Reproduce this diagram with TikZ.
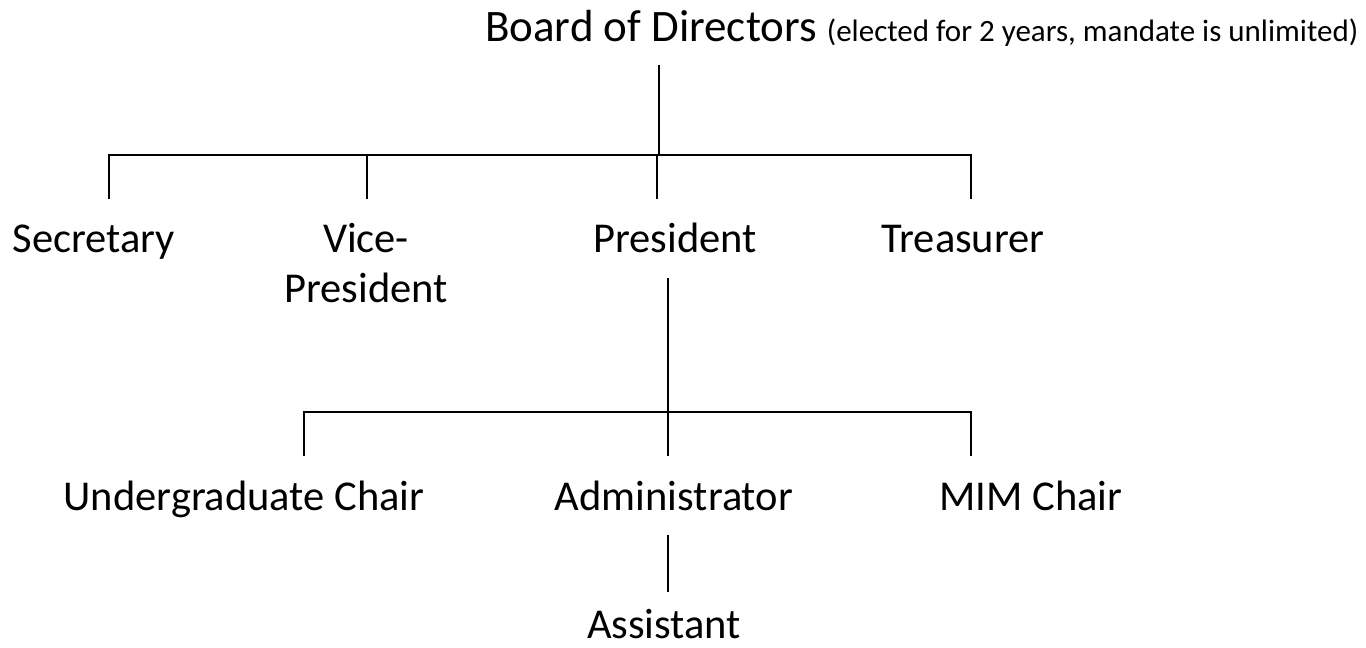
\documentclass[tikz,border=0pt]{standalone}
\usepackage{fontspec}
\setmainfont{Carlito}
\tikzset{
  lbl/.style={anchor=base, inner sep=0pt, font=\fontsize{42.5}{50}\selectfont},
  conn/.style={line width=2pt}
}
\begin{document}
\begin{tikzpicture}[x=1pt, y=-1pt]
		% Frame
		\useasboundingbox (0,0) rectangle (1366,648);
		
		% Posts
		\node[lbl, anchor=base west, font=\fontsize{45}{50}\selectfont] (board) at (485,41) {Board of Directors\hspace{10pt}{\fontsize{31}{36}\selectfont (elected for 2 years, mandate is unlimited)}};
		\node[lbl] (sec) at (94,252) {Secretary};
		\node[lbl, align=center] (vp) at (366,302) {Vice-\\President};
		\node[lbl] (pres) at (675,252) {President};
		\node[lbl] (treas) at (963,252) {Treasurer};
		\node[lbl] (ugc) at (244,510) {Undergraduate Chair};
		\node[lbl] (adm) at (674,510) {Administrator};
		\node[lbl] (mim) at (1031,510) {MIM Chair};
		\node[lbl] (asst) at (664,638) {Assistant};
		
		% Junctions
		\coordinate (b0) at (659,65);
		\coordinate (b1) at (659,155);
		\coordinate (d1) at (109,199);
		\coordinate (d2) at (367,199);
		\coordinate (d3) at (657,199);
		\coordinate (d4) at (971,199);
		\coordinate (p0) at (668,278);
		\coordinate (p1) at (668,412);
		\coordinate (e1) at (304,456);
		\coordinate (e2) at (668,456);
		\coordinate (e3) at (971,456);
		\coordinate (a0) at (668,535);
		\coordinate (a1) at (668,592);
		
		% Lines
		\draw[conn] (b0) -- (b1);
		\draw[conn] (d1) |- (b1) -| (d4);
		\draw[conn] (d2) -- (d2 |- b1);
		\draw[conn] (d3) -- (d3 |- b1);
		\draw[conn] (p0) -- (p1);
		\draw[conn] (e1) |- (p1) -| (e3);
		\draw[conn] (e2) -- (p1);
		\draw[conn] (a0) -- (a1);
		\end{tikzpicture}
\end{document}
